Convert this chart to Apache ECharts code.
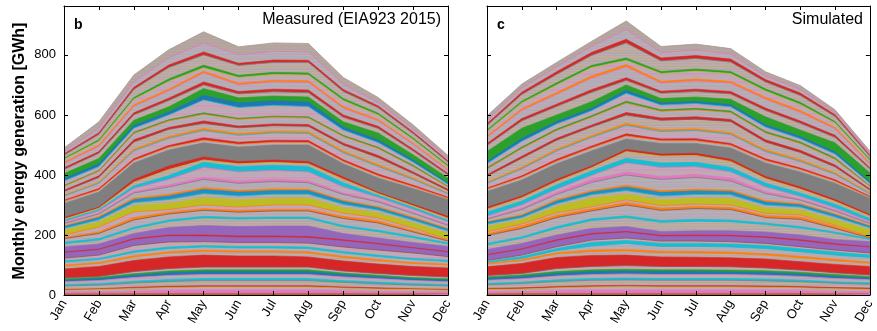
<!DOCTYPE html>
<html><head><meta charset="utf-8">
<script src="https://cdn.jsdelivr.net/npm/echarts@6/dist/echarts.min.js"></script>
<style>html,body{margin:0;padding:0;background:#fff}#c{width:877px;height:331px}</style>
</head><body><div id="c"></div>
<script>
const months = ['Jan','Feb','Mar','Apr','May','Jun','Jul','Aug','Sep','Oct','Nov','Dec'];
const yTickValues = [0, 200, 400, 600, 800];

// Cumulative generation (GWh) at the top of each band, bottom band first — panel b (measured)
const measuredLevels = [
  [4,4,5,5,5,5,5,5,5,4,4,4],
  [10,11,13,15,16,16,16,16,14,12,11,10],
  [16,18,22,25,27,27,27,27,23,20,18,16],
  [19,21,26,29,31,31,31,31,27,24,21,19],
  [30,33,40,45,48,48,48,48,42,37,33,30],
  [35,38,46,52,55,55,55,55,48,43,38,35],
  [44,48,58,65,68,68,68,68,60,54,48,44],
  [50,55,66,74,78,78,78,78,68,61,54,50],
  [54,59,71,80,84,84,84,84,73,66,58,54],
  [57,62,78,88,93,93,93,93,80,72,65,60],
  [87,95,115,127,133,130,130,127,113,103,95,90],
  [97,105,127,140,146,143,143,140,125,114,105,100],
  [100,108,131,144,150,147,147,144,129,118,108,103],
  [110,118,142,155,160,157,157,155,140,128,118,112],
  [114,122,147,160,165,162,162,160,145,133,122,116],
  [123,133,165,177,178,175,175,173,160,150,140,128],
  [140,150,184,196,195,192,192,190,180,168,155,142],
  [143,153,188,200,200,197,197,195,184,172,158,145],
  [160,170,205,225,232,228,230,230,205,190,175,162],
  [171,183,221,245,257,253,255,255,227,211,191,170],
  [176,188,226,250,262,258,260,260,232,216,196,174],
  [188,205,250,270,282,276,280,280,255,240,210,180],
  [192,211,258,276,288,282,286,286,262,247,215,182],
  [200,227,277,285,300,293,300,300,273,257,223,185],
  [215,243,297,305,325,317,322,323,290,273,240,205],
  [222,251,308,318,338,330,336,336,302,283,249,213],
  [228,258,318,330,352,343,348,348,312,291,256,219],
  [231,262,323,336,358,349,354,353,316,295,260,222],
  [238,270,340,360,385,372,378,374,335,310,272,232],
  [240,273,345,367,392,380,386,381,341,315,276,236],
  [244,280,355,385,425,410,415,410,360,325,285,243],
  [249,285,364,398,442,427,432,428,374,332,292,249],
  [253,289,376,418,450,437,442,437,386,338,297,256],
  [258,293,385,430,460,445,450,445,393,342,302,262],
  [305,343,440,483,507,493,500,500,437,390,355,318],
  [312,350,448,492,516,502,509,508,445,397,361,322],
  [316,355,454,498,524,509,516,515,451,403,366,326],
  [330,372,480,522,548,532,540,538,474,428,385,337],
  [333,376,486,528,555,538,546,544,480,434,390,340],
  [345,392,510,552,572,557,564,562,500,458,405,348],
  [349,397,517,558,580,563,570,568,506,465,410,352],
  [362,412,538,580,602,585,592,590,528,488,428,360],
  [365,415,542,584,607,589,596,594,532,492,432,362],
  [380,428,556,600,650,625,632,628,550,508,443,369],
  [388,437,565,610,665,640,647,643,560,517,450,373],
  [405,455,582,627,688,657,663,660,577,540,467,390],
  [418,472,600,648,700,670,677,674,592,555,480,400],
  [424,478,607,656,710,678,686,683,600,562,486,405],
  [438,495,628,680,740,700,710,708,622,580,502,415],
  [442,500,634,686,746,706,716,714,628,585,506,418],
  [452,512,652,712,757,725,735,733,648,600,518,428],
  [456,517,658,720,766,732,742,740,655,606,523,432],
  [466,535,685,758,800,765,775,775,678,624,538,443],
  [470,541,692,766,810,772,783,782,685,630,543,447],
  [478,556,710,790,840,800,812,810,702,642,553,455],
  [490,577,733,817,877,827,840,838,725,658,567,465]
];

// Panel c (simulated)
const simulatedLevels = [
  [4,5,5,5,5,5,5,5,5,5,4,4],
  [11,12,14,16,16,16,16,16,15,14,12,11],
  [18,20,24,27,28,27,27,27,26,24,21,19],
  [22,24,28,31,32,31,31,31,30,28,25,23],
  [34,38,45,49,50,49,49,49,47,44,39,36],
  [39,43,51,55,57,55,55,55,53,50,44,41],
  [49,54,63,68,70,68,68,68,66,62,55,51],
  [56,62,72,78,80,78,78,77,75,70,62,57],
  [61,67,78,84,86,84,84,83,81,76,68,62],
  [65,72,88,95,98,95,95,94,90,83,74,67],
  [94,105,125,132,133,127,126,124,120,111,102,95],
  [103,115,137,145,147,141,140,138,133,124,114,106],
  [106,118,141,150,152,146,145,143,138,129,119,110],
  [108,122,148,163,172,162,162,160,155,144,133,125],
  [112,128,155,175,182,172,172,170,165,154,143,133],
  [115,133,161,183,190,180,180,178,172,161,150,140],
  [132,151,180,201,208,195,196,195,190,180,167,158],
  [135,154,184,205,212,199,200,199,194,184,171,161],
  [152,172,200,222,228,212,214,214,210,200,185,178],
  [167,189,222,248,258,242,246,244,235,223,206,185],
  [172,194,228,254,264,248,252,250,240,228,210,188],
  [198,222,258,280,300,282,288,285,258,252,222,190],
  [204,230,266,287,308,290,295,292,265,260,228,192],
  [211,237,274,294,317,298,303,300,272,267,233,194],
  [228,250,294,323,335,317,322,322,289,283,250,217],
  [236,258,304,334,348,330,335,334,300,293,260,224],
  [242,264,313,343,360,342,347,345,310,301,267,229],
  [245,268,318,348,366,348,353,350,315,305,271,232],
  [253,285,335,375,400,385,392,380,338,316,280,238],
  [256,290,342,385,410,395,402,390,345,320,284,241],
  [262,300,352,398,440,425,427,410,360,328,290,245],
  [276,313,367,413,456,440,442,425,373,340,302,255],
  [286,324,378,424,478,463,465,445,388,353,312,263],
  [292,330,385,430,485,470,472,452,395,360,318,268],
  [345,383,437,480,520,505,505,490,440,410,372,322],
  [352,392,446,490,530,514,514,499,448,418,379,326],
  [356,397,452,496,537,520,521,505,454,423,384,329],
  [372,420,480,525,565,545,548,535,478,445,402,337],
  [376,426,486,531,572,551,554,541,484,451,407,340],
  [396,456,516,560,600,582,586,578,510,475,427,350],
  [401,462,522,566,608,590,594,585,517,482,433,353],
  [420,488,548,592,640,612,617,608,540,505,452,362],
  [424,493,553,597,646,617,622,613,545,510,457,364],
  [438,512,570,614,672,633,638,627,560,521,470,372],
  [445,522,578,622,682,640,645,635,567,528,477,377],
  [478,556,600,644,700,655,660,652,594,550,507,407],
  [498,580,628,675,715,672,678,670,615,572,525,420],
  [505,588,636,684,724,679,686,678,623,580,532,424],
  [525,615,668,722,760,706,713,706,652,608,553,436],
  [530,621,675,730,768,712,720,712,659,615,558,440],
  [545,640,700,758,782,738,746,738,680,635,573,448],
  [550,646,707,765,790,745,753,745,687,642,578,452],
  [565,668,735,798,840,780,788,776,710,665,595,462],
  [571,676,744,808,852,790,798,786,718,673,601,466],
  [582,690,760,828,885,808,816,803,730,685,608,472],
  [597,703,775,845,913,828,836,821,744,698,617,480]
];

// ---- styles ----
const FA = 'FA', FB = 'FB', FC = 'FC';
const bandColors = [
  '#b5652a','#e377c2',FA,'#d62728',FB,'#17becf',FC,'#1f77b4','#2ca02c',FA,
  '#d62728',FB,'#ff7f0e',FC,'#17becf',FA,'#9467bd','#d62728','#9467bd',FB,
  '#17becf',FC,'#ff7f0e',FA,'#bcbd22',FB,'#1f8fc4','#ff7f0e',FC,'#e377c2',
  FA,'#17becf',FB,'#d62728','#7f7f7f',FC,'#d62728',FA,'#ff7f0e',FB,
  '#d62728',FC,'#2ca02c',FA,'#1f77b4','#2ca02c',FB,'#d62728',FC,'#ff7f0e',
  FA,'#2ca02c',FB,'#d62728',FC,'TOP'
];
const stripeCycle = ['#e377c2','#17becf','#bcbd22','#8c564b','#7f7f7f','#ff7f0e'];
const patternRows = {
  FA:  ['#cfa2bf','#c49cb4','#b9abae','#d19ac0','#bfb0a2','#c8a3b8','#aeb4bb','#cc9fbd'],
  FB:  ['#bcae9c','#c6a5b4','#b0ab98','#bdb394','#c3a0b6','#aaaaa6','#c0b09e','#b8a6ae'],
  FC:  ['#b5aab6','#a9b2ba','#c2a2b6','#b0b0a8','#a7b6bf','#bca8b0','#b0aab4','#c4a8b8'],
  TOP: ['#b5a59c','#b1a2a4','#bba99a','#ada4a8','#b8a39e','#b2a89c']
};
function makePattern(rows) {
  const c = document.createElement('canvas');
  c.width = 8; c.height = rows.length;
  const ctx = c.getContext('2d');
  rows.forEach((col, i) => { ctx.fillStyle = col; ctx.fillRect(0, i, 8, 1); });
  return {image: c, repeat: 'repeat'};
}
const patterns = {};
Object.keys(patternRows).forEach(k => { patterns[k] = makePattern(patternRows[k]); });
const avgColor = {FA: '#c4a3b5', FB: '#b9ab9f', FC: '#b2adb5', TOP: '#b3a59f'};

const FONT = '"Liberation Sans", Arial, sans-serif';
const grids = [
  {left: 64, top: 6, width: 384, height: 289},
  {left: 487, top: 6, width: 385, height: 289}
];
const YMAX = 963;

const xAxes = [], yAxes = [], series = [];
grids.forEach((g, gi) => {
  xAxes.push({
    gridIndex: gi, type: 'category', data: months, boundaryGap: false, position: 'bottom',
    axisLine: {show: true, onZero: false, lineStyle: {color: '#000', width: 1}},
    axisTick: {show: true, inside: true, length: 4, lineStyle: {color: '#000'}},
    axisLabel: {rotate: 60, fontSize: 13, color: '#000', fontFamily: FONT, margin: 6, interval: 0},
    splitLine: {show: false}, z: 10
  });
  xAxes.push({
    gridIndex: gi, type: 'category', data: months, boundaryGap: false, position: 'top',
    axisLine: {show: true, onZero: false, lineStyle: {color: '#000', width: 1}},
    axisTick: {show: true, inside: true, length: 4, lineStyle: {color: '#000'}},
    axisLabel: {show: false}, splitLine: {show: false}, z: 10
  });
  yAxes.push({
    gridIndex: gi, type: 'value', min: 0, max: YMAX, interval: 200, position: 'left',
    axisLine: {show: true, lineStyle: {color: '#000', width: 1}},
    axisTick: {show: true, inside: true, length: 4, lineStyle: {color: '#000'}},
    axisLabel: {show: gi === 0, fontSize: 13, color: '#000', fontFamily: FONT, margin: 8,
      showMaxLabel: false,
      formatter: v => yTickValues.indexOf(v) >= 0 ? String(v) : ''},
    splitLine: {show: false}, z: 10
  });
  yAxes.push({
    gridIndex: gi, type: 'value', min: 0, max: YMAX, interval: 200, position: 'right',
    axisLine: {show: true, lineStyle: {color: '#000', width: 1}},
    axisTick: {show: true, inside: true, length: 4, lineStyle: {color: '#000'}},
    axisLabel: {show: false}, splitLine: {show: false}, z: 10
  });
});

function addPanel(levels, gi) {
  for (let k = levels.length - 1; k >= 0; k--) {
    const key = bandColors[k];
    const isFiller = patterns[key] !== undefined;
    series.push({
      type: 'line', xAxisIndex: gi * 2, yAxisIndex: gi * 2,
      data: levels[k], symbol: 'none', silent: true,
      lineStyle: {width: isFiller ? 0.8 : 0.6,
        color: isFiller ? (key === 'TOP' ? '#a99a96' : stripeCycle[k % stripeCycle.length]) : key},
      areaStyle: {color: isFiller ? patterns[key] : key, opacity: 1},
      emphasis: {disabled: true}
    });
  }
}
addPanel(measuredLevels, 0);
addPanel(simulatedLevels, 1);

const chart = echarts.init(document.getElementById('c'), null, {renderer: 'canvas'});
chart.setOption({
  animation: false,
  backgroundColor: '#fff',
  grid: grids,
  xAxis: xAxes,
  yAxis: yAxes,
  series: series,
  graphic: [
    {type: 'text', x: 20, y: 151, rotation: Math.PI / 2,
      style: {text: 'Monthly energy generation [GWh]', font: 'bold 16px ' + FONT, fill: '#000',
        textAlign: 'center', textVerticalAlign: 'middle'}},
    {type: 'text', x: 74, y: 25,
      style: {text: 'b', font: 'bold 14px ' + FONT, fill: '#000', textAlign: 'left', textVerticalAlign: 'middle'}},
    {type: 'text', x: 441, y: 20,
      style: {text: 'Measured (EIA923 2015)', font: '16px ' + FONT, fill: '#000', textAlign: 'right', textVerticalAlign: 'middle'}},
    {type: 'text', x: 497, y: 25,
      style: {text: 'c', font: 'bold 14px ' + FONT, fill: '#000', textAlign: 'left', textVerticalAlign: 'middle'}},
    {type: 'text', x: 863, y: 20,
      style: {text: 'Simulated', font: '16px ' + FONT, fill: '#000', textAlign: 'right', textVerticalAlign: 'middle'}}
  ]
});
</script>
</body></html>
